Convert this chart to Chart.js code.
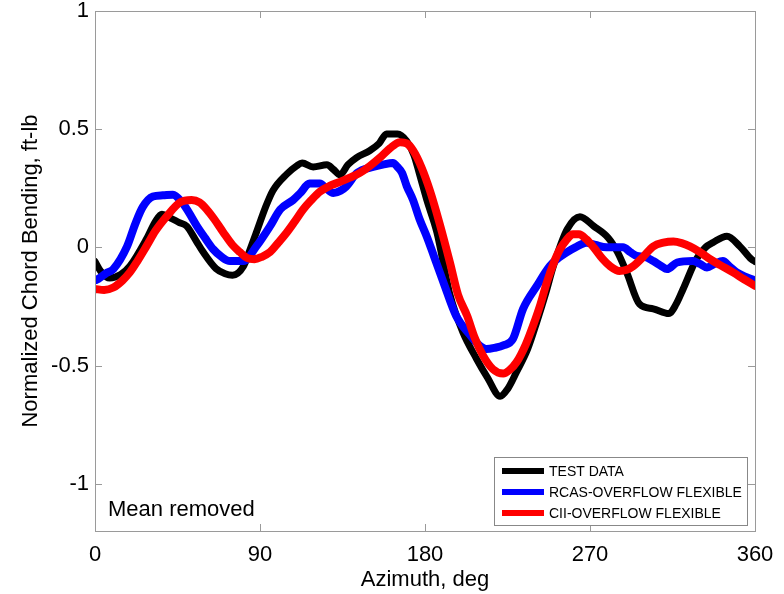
<!DOCTYPE html>
<html>
<head>
<meta charset="utf-8">
<script src="https://cdn.jsdelivr.net/npm/chart.js@4/dist/chart.umd.min.js"></script>
<style>
  html, body { margin: 0; padding: 0; background: #fff; }
  canvas { display: block; }
</style>
</head>
<body>
<canvas id="bending_chart" width="784" height="594"></canvas>
<script>
// azimuth (deg) / normalized chord bending
var testAz = [0, 3, 8, 14, 19, 28, 33, 36.5, 41, 46, 50, 55, 59, 66, 71, 75, 81, 85, 88, 93, 97, 104.6, 110, 113, 119, 126.5, 130, 133.6, 138, 142.7, 150, 155, 159, 165, 170, 174, 177, 181, 186.5, 193.6, 200.7, 208, 214, 221, 225, 230, 236, 241, 246, 250, 257.5, 264.5, 272, 280, 285, 290, 297, 304.5, 313, 317, 320.8, 328, 333, 337, 344.7, 351.8, 358, 360];
var testVal = [-0.06, -0.1, -0.13, -0.115, -0.08, 0.034, 0.11, 0.14, 0.125, 0.105, 0.09, 0.03, -0.02, -0.09, -0.112, -0.118, -0.08, 0, 0.063, 0.17, 0.24, 0.31, 0.345, 0.357, 0.34, 0.349, 0.33, 0.307, 0.35, 0.38, 0.41, 0.44, 0.48, 0.48, 0.45, 0.39, 0.31, 0.2, 0.063, -0.2, -0.36, -0.47, -0.55, -0.63, -0.6, -0.526, -0.43, -0.315, -0.19, -0.08, 0.076, 0.13, 0.09, 0.04, -0.02, -0.106, -0.24, -0.26, -0.28, -0.24, -0.176, -0.05, 0.0, 0.02, 0.047, 0.004, -0.05, -0.06];

var rcasAz = [0, 1.7, 6, 10, 17.5, 22, 26, 31.6, 37, 42.5, 47.5, 51, 55.6, 60, 64.5, 69, 73.6, 81, 88, 95.5, 101, 108, 112, 117, 122.7, 126, 130, 134, 137, 143, 151.6, 157, 162.5, 165, 167.5, 170, 173.5, 177, 181, 185, 190, 197, 204.5, 209, 213.5, 218, 222.7, 228, 233.5, 241, 248, 252, 257.5, 262, 268, 273, 279, 288, 292, 295.5, 300, 304.5, 309, 312, 317.5, 326, 330, 333.8, 338, 342.5, 346, 350, 355, 360];
var rcasVal = [-0.14, -0.134, -0.11, -0.092, 0.004, 0.1, 0.17, 0.215, 0.22, 0.223, 0.19, 0.15, 0.09, 0.04, -0.008, -0.04, -0.058, -0.058, 0.004, 0.09, 0.16, 0.2, 0.23, 0.27, 0.27, 0.25, 0.23, 0.24, 0.257, 0.315, 0.34, 0.35, 0.357, 0.34, 0.315, 0.26, 0.2, 0.12, 0.045, -0.04, -0.147, -0.29, -0.37, -0.41, -0.43, -0.425, -0.415, -0.387, -0.26, -0.163, -0.08, -0.05, -0.02, 0.0, 0.02, 0.01, 0.0, 0.0, -0.02, -0.036, -0.04, -0.058, -0.08, -0.092, -0.064, -0.058, -0.07, -0.085, -0.07, -0.058, -0.08, -0.106, -0.125, -0.14];

var ciiAz = [0, 5, 10, 15, 19, 23, 28, 33, 39, 46.4, 52.7, 57, 61, 65, 70, 75, 79, 83, 87, 91, 95.5, 100, 104.6, 109, 113.5, 118, 122.7, 128, 133.6, 139, 144.5, 150, 155.5, 161, 166.4, 170, 173.5, 178, 182.7, 188, 193.6, 198, 203, 207, 211.6, 217, 222.7, 226, 230, 235, 239, 243, 246.5, 250, 253.6, 257, 260.7, 264, 268, 272, 277, 281, 286, 290, 293.5, 299, 304.5, 310, 315.5, 320, 324.5, 330, 335.5, 341, 348, 354, 360];
var ciiVal = [-0.176, -0.18, -0.17, -0.14, -0.106, -0.06, 0.004, 0.07, 0.13, 0.19, 0.2, 0.19, 0.16, 0.12, 0.063, 0.01, -0.02, -0.045, -0.05, -0.04, -0.02, 0.02, 0.063, 0.11, 0.16, 0.2, 0.236, 0.26, 0.277, 0.295, 0.315, 0.345, 0.38, 0.42, 0.445, 0.44, 0.41, 0.34, 0.24, 0.1, -0.064, -0.2, -0.29, -0.38, -0.457, -0.515, -0.534, -0.52, -0.485, -0.41, -0.33, -0.24, -0.147, -0.07, -0.008, 0.03, 0.055, 0.055, 0.034, 0.0, -0.05, -0.08, -0.1, -0.095, -0.08, -0.04, 0.004, 0.02, 0.025, 0.018, 0.004, -0.02, -0.05, -0.075, -0.106, -0.135, -0.163];

var xTicks = [0, 90, 180, 270, 360];
var yTicks = [-1, -0.5, 0, 0.5, 1];
var seriesNames = ['TEST DATA', 'RCAS-OVERFLOW FLEXIBLE', 'CII-OVERFLOW FLEXIBLE'];
var seriesColors = ['#000000', '#0000ff', '#ff0000'];

var FONT = "'Liberation Sans', Arial, Helvetica, sans-serif";

function pts(xs, ys) {
    var out = [];
    for (var i = 0; i < xs.length; i++) out.push({x: xs[i], y: ys[i]});
    return out;
}

// box, inward ticks, legend and the note (matlab style)
var framePlugin = {
    id: 'frame',
    afterDatasetsDraw: function(chart) {
        var ctx = chart.ctx;
        var a = chart.chartArea;
        var xs = chart.scales.x, ys = chart.scales.y;
        ctx.save();
        ctx.strokeStyle = '#9a9a9a';
        ctx.lineWidth = 1;
        ctx.strokeRect(a.left + 0.5, a.top + 0.5, a.right - a.left, a.bottom - a.top);
        ctx.beginPath();
        xTicks.forEach(function(v) {
            var px = Math.round(xs.getPixelForValue(v)) + 0.5;
            ctx.moveTo(px, a.bottom); ctx.lineTo(px, a.bottom - 7);
            ctx.moveTo(px, a.top); ctx.lineTo(px, a.top + 7);
        });
        yTicks.forEach(function(v) {
            var py = Math.round(ys.getPixelForValue(v)) + 0.5;
            ctx.moveTo(a.left, py); ctx.lineTo(a.left + 7, py);
            ctx.moveTo(a.right, py); ctx.lineTo(a.right - 7, py);
        });
        ctx.stroke();

        // note
        ctx.fillStyle = '#000';
        ctx.font = '22px ' + FONT;
        ctx.textAlign = 'left';
        ctx.textBaseline = 'alphabetic';
        ctx.fillText('Mean removed', a.left + 13, 516);

        // legend
        var bx = 494, by = 457, bw = 253, bh = 68;
        ctx.fillStyle = '#fff';
        ctx.fillRect(bx, by, bw, bh);
        ctx.strokeStyle = '#888';
        ctx.strokeRect(bx + 0.5, by + 0.5, bw, bh);
        ctx.font = '14px ' + FONT;
        ctx.textBaseline = 'middle';
        for (var i = 0; i < seriesNames.length; i++) {
            var ry = 471 + i * 21;
            ctx.fillStyle = seriesColors[i];
            ctx.fillRect(502, ry - 3, 42, 6);
            ctx.fillStyle = '#000';
            ctx.fillText(seriesNames[i], 549, ry + 1);
        }
        ctx.restore();
    }
};

var ctx = document.getElementById('bending_chart').getContext('2d');
var chart = new Chart(ctx, {
    type: 'line',
    data: {
        datasets: [{
            label: seriesNames[2],
            data: pts(ciiAz, ciiVal),
            borderColor: seriesColors[2],
            borderWidth: 8,
            order: 0
        }, {
            label: seriesNames[1],
            data: pts(rcasAz, rcasVal),
            borderColor: seriesColors[1],
            borderWidth: 8,
            order: 1
        }, {
            label: seriesNames[0],
            data: pts(testAz, testVal),
            borderColor: seriesColors[0],
            borderWidth: 7,
            order: 2
        }]
    },
    options: {
        responsive: false,
        animation: false,
        devicePixelRatio: 1,
        layout: { padding: { top: 11, right: 29, bottom: 0, left: 0 } },
        elements: {
            point: { radius: 0 },
            line: { cubicInterpolationMode: 'monotone', fill: false, borderCapStyle: 'round', borderJoinStyle: 'round' }
        },
        plugins: {
            legend: { display: false },
            tooltip: { enabled: false }
        },
        scales: {
            x: {
                type: 'linear',
                min: 0,
                max: 360,
                grid: { display: false, drawTicks: false },
                border: { display: false },
                afterBuildTicks: function(s) { s.ticks = xTicks.map(function(v) { return {value: v}; }); },
                afterFit: function(s) { s.height = 63; s.paddingLeft = 0; s.paddingRight = 0; },
                ticks: {
                    color: '#000',
                    padding: 11,
                    maxRotation: 0,
                    font: { family: FONT, size: 22 },
                    callback: function(v) { return String(v); }
                },
                title: {
                    display: true,
                    text: 'Azimuth, deg',
                    color: '#000',
                    font: { family: FONT, size: 22 },
                    padding: { top: 0, bottom: 1 }
                }
            },
            y: {
                type: 'linear',
                min: -1.2,
                max: 1,
                grid: { display: false, drawTicks: false },
                border: { display: false },
                afterBuildTicks: function(s) { s.ticks = yTicks.map(function(v) { return {value: v}; }); },
                afterFit: function(s) { s.width = 95; s.paddingTop = 0; s.paddingBottom = 0; },
                ticks: {
                    color: '#000',
                    padding: 6,
                    font: { family: FONT, size: 22 },
                    callback: function(v) { return String(v); }
                },
                title: {
                    display: true,
                    text: 'Normalized Chord Bending, ft-lb',
                    color: '#000',
                    font: { family: FONT, size: 22 },
                    padding: { top: 18, bottom: 0 }
                }
            }
        }
    },
    plugins: [framePlugin]
});
</script>
</body>
</html>
